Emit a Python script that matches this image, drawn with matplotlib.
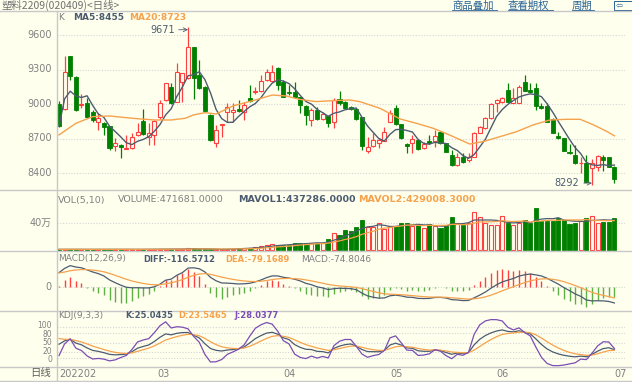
import numpy as np
import matplotlib
matplotlib.use("Agg")
import matplotlib.pyplot as plt
from matplotlib.lines import Line2D
from matplotlib.patches import Rectangle

# ---------------- data ----------------
opens = [9000, 8954, 9418, 9232, 8990, 9012, 8934, 8847, 8838, 8809,
         8635, 8643, 8612, 8615, 8731, 8852, 8716, 8731, 8890, 9035,
         9151, 9021, 9195, 9224, 9493, 9253, 9151, 8905, 8664, 8815,
         8928, 8933, 8954, 8933, 9049, 9101, 9113, 9209, 9203, 9311,
         9195, 9107, 9107, 9058, 8983, 8861, 8948, 8867, 8896, 8847,
         9041, 9020, 8971, 8954, 8884, 8594, 8638, 8664, 8681, 8847,
         8962, 8826, 8652, 8658, 8687, 8615, 8681, 8681, 8760, 8658,
         8557, 8470, 8536, 8513, 8542, 8751, 8789, 8876, 9006, 9020,
         9122, 9012, 9012, 9195, 9125, 9137, 8983, 8983, 8867, 8722,
         8702, 8586, 8557, 8484, 8490, 8441, 8455, 8542, 8536, 8455]
highs = [9029, 9418, 9418, 9240, 9087, 9050, 8950, 8919, 8845, 8812,
         8702, 8650, 8731, 8745, 8838, 8954, 8832, 8861, 9035, 9186,
         9180, 9360, 9270, 9671, 9500, 9383, 9160, 8910, 8818, 8830,
         9006, 9006, 9035, 9021, 9165, 9151, 9253, 9302, 9340, 9320,
         9210, 9165, 9194, 9065, 8990, 8962, 8977, 8933, 8900, 9050,
         9116, 9030, 8980, 8960, 8890, 8716, 8745, 8702, 8803, 8948,
         8991, 8830, 8660, 8731, 8700, 8672, 8731, 8774, 8765, 8660,
         8600, 8571, 8571, 8577, 8760, 8810, 8890, 9010, 9040, 9064,
         9180, 9137, 9166, 9253, 9180, 9186, 9006, 9006, 8875, 8760,
         8705, 8652, 8643, 8542, 8557, 8525, 8557, 8557, 8542, 8460]
lows = [8803, 8948, 9209, 8942, 8962, 8875, 8847, 8774, 8731, 8600,
        8594, 8528, 8605, 8610, 8725, 8730, 8644, 8644, 8867, 9030,
        9000, 9015, 9020, 9220, 9041, 9130, 8935, 8680, 8629, 8716,
        8847, 8847, 8930, 8861, 9020, 9090, 9105, 9200, 9195, 9122,
        9060, 9080, 9050, 8919, 8818, 8809, 8860, 8860, 8803, 8789,
        8995, 8955, 8950, 8860, 8600, 8577, 8630, 8615, 8675, 8840,
        8820, 8700, 8571, 8577, 8600, 8605, 8655, 8629, 8650, 8580,
        8465, 8465, 8490, 8500, 8535, 8745, 8780, 8870, 8934, 9010,
        9015, 9005, 9005, 9110, 9100, 8948, 8955, 8840, 8745, 8695,
        8590, 8565, 8480, 8397, 8320, 8292, 8420, 8420, 8450, 8310]
closes = [8809, 9281, 9244, 8948, 9000, 8884, 8861, 8876, 8797, 8615,
          8658, 8626, 8620, 8716, 8760, 8736, 8751, 8852, 9006, 9180,
          9006, 9282, 9267, 9493, 9224, 9137, 8942, 8687, 8774, 8826,
          8971, 8948, 8939, 8991, 9029, 9116, 9200, 9282, 9282, 9166,
          9064, 9093, 9058, 8991, 8904, 8948, 8867, 8910, 8838, 9035,
          9006, 8962, 8954, 8867, 8635, 8623, 8687, 8687, 8760, 8925,
          8826, 8702, 8635, 8693, 8606, 8652, 8664, 8722, 8658, 8586,
          8470, 8542, 8499, 8542, 8751, 8797, 8876, 9000, 9035, 9049,
          9020, 9049, 9151, 9116, 9105, 8983, 8962, 8846, 8751, 8702,
          8594, 8571, 8484, 8490, 8325, 8484, 8548, 8513, 8455, 8345]
volumes = [10000, 9000, 11000, 10000, 9000, 10000, 9000, 10000, 11000, 10000,
           9000, 10000, 10000, 9000, 10000, 11000, 12000, 13000, 14000, 13000,
           14000, 15000, 15000, 25000, 26000, 10000, 9000, 10000, 9000, 10000,
           20000, 22000, 25000, 30000, 35000, 40000, 55000, 70000, 84000, 80000,
           75000, 80000, 104000, 104000, 104000, 109000, 109000, 99000, 158000, 257000,
           222000, 296000, 282000, 346000, 445000, 346000, 336000, 395000, 306000, 356000,
           356000, 395000, 405000, 356000, 385000, 321000, 385000, 356000, 326000, 370000,
           494000, 395000, 370000, 395000, 568000, 494000, 395000, 370000, 370000, 504000,
           395000, 370000, 395000, 445000, 395000, 618000, 435000, 435000, 435000, 469000,
           445000, 385000, 395000, 435000, 469000, 504000, 405000, 420000, 420000, 471681]
ma20_idx = [0, 3, 6, 9, 13, 17, 20, 22.5, 24, 26, 28, 31, 35, 38, 40.5, 42.8, 45.8,
            48.8, 51.8, 53.6, 57.2, 60.8, 63.7, 66.7, 69.6, 73.2, 75.6, 78.6, 81.6,
            84.5, 87.5, 90.5, 92.9, 95.3, 97.7, 99]
ma20_val = [8731, 8832, 8890, 8896, 8876, 8861, 8861, 8876, 8905, 8925, 8913, 8983,
            9035, 9078, 9070, 9041, 9021, 9029, 9035, 9021, 8963, 8870, 8832, 8789,
            8731, 8652, 8673, 8716, 8760, 8818, 8861, 8867, 8867, 8818, 8760, 8723]
month_labels = ["202202", "03", "04", "05", "06", "07"]
month_idx = [0, 17.5, 40, 59, 78, 99]
price_ticks = [9600, 9300, 9000, 8700, 8400]
kdj_ticks = [100, 80, 50, 20, 0]

title_text = "塑料2209(020409)<日线>"
links = ["商品叠加", "查看期权", "周期"]
ma_header = ["K", "MA5:8455", "MA20:8723"]
vol_header = ["VOL(5,10)", "VOLUME:471681.0000", "MAVOL1:437286.0000", "MAVOL2:429008.3000"]
macd_header = ["MACD(12,26,9)", "DIFF:-116.5712", "DEA:-79.1689", "MACD:-74.8046"]
kdj_header = ["KDJ(9,3,3)", "K:25.0435", "D:23.5465", "J:28.0377"]

# --------------- indicators ---------------
C = np.array(closes, float)
H = np.array(highs, float)
L = np.array(lows, float)
O = np.array(opens, float)
V = np.array(volumes, float)
n = len(C)
x = np.arange(n)

def sma(a, k):
    out = np.empty(len(a))
    for i in range(len(a)):
        out[i] = a[max(0, i - k + 1):i + 1].mean()
    return out

ma5 = sma(C, 5)
mavol1 = sma(V, 5)
mavol2 = sma(V, 10)

# MACD with starting states
ema12, ema26, dea = 8800.0, 8690.0, 100.0
diff_l, dea_l = [], []
for c in C:
    ema12 = ema12 * 11 / 13 + c * 2 / 13
    ema26 = ema26 * 25 / 27 + c * 2 / 27
    d = ema12 - ema26
    dea = dea * 8 / 10 + d * 2 / 10
    diff_l.append(d)
    dea_l.append(dea)
diff_a = np.array(diff_l)
dea_a = np.array(dea_l)
macd_a = 2 * (diff_a - dea_a)

# KDJ(9,3,3) with starting states
k, dd = 66.0, 72.0
K_l, D_l = [], []
for i in range(n):
    lo = L[max(0, i - 8):i + 1].min()
    hi = H[max(0, i - 8):i + 1].max()
    rsv = (C[i] - lo) / (hi - lo) * 100 if hi > lo else 50
    k = k * 2 / 3 + rsv / 3
    dd = dd * 2 / 3 + k / 3
    K_l.append(k)
    D_l.append(dd)
K_a = np.array(K_l)
D_a = np.array(D_l)
J_a = 3 * K_a - 2 * D_a

# ---------------- style ----------------
W, Hh = 632, 382
BG = "#FFFFEE"
RED = "#FF4040"
GREEN = "#008000"
MGREEN = "#5DB043"
DARK = "#4C5C70"
ORANGE = "#F6A24C"
PURPLE = "#7A4DB3"
GRAY = "#808080"
GRID = "#D5D5D5"
CJK = ["Noto Sans CJK SC", "DejaVu Sans"]
LAT = ["DejaVu Sans", "Noto Sans CJK SC"]

fig = plt.figure(figsize=(W / 100, Hh / 100), dpi=100, facecolor=BG)

X0, X1 = 57, 625
XL = (-0.36, (X1 - 59) / 5.61)

def px_axes(y0, y1):
    ax = fig.add_axes([X0 / W, 1 - y1 / Hh, (X1 - X0) / W, (y1 - y0) / Hh])
    ax.set_facecolor(BG)
    ax.set_xlim(*XL)
    for s in ax.spines.values():
        s.set_visible(False)
    ax.set_xticks([])
    ax.set_yticks([])
    return ax

def ftext(xp, yp, s, **kw):
    kw.setdefault("fontsize", 7)
    kw.setdefault("va", "center")
    kw.setdefault("family", LAT)
    fig.text(xp / W, 1 - yp / Hh, s, **kw)

def hline(yp, x0=0, x1=W, color="#C8C8C8", lw=1.0):
    fig.add_artist(Line2D([x0 / W, x1 / W], [1 - yp / Hh, 1 - yp / Hh], color=color, lw=lw,
                          transform=fig.transFigure))

def vline(xp, y0, y1, color="#C8C8C8", lw=1.0):
    fig.add_artist(Line2D([xp / W, xp / W], [1 - y0 / Hh, 1 - y1 / Hh], color=color, lw=lw,
                          transform=fig.transFigure))

# ---------------- main K panel ----------------
ax = px_axes(12, 190)
ax.set_ylim(8400 - 17 * 1200 / 138, 9600 + 23 * 1200 / 138)
for t in price_ticks:
    ax.axhline(t, color=GRID, lw=0.8, ls=(0, (1, 1.5)), zorder=0)
    ftext(52, 173 - (t - 8400) * 138 / 1200, str(t), ha="right", color=GRAY, fontsize=7)

up = C >= O
cols = np.where(up, RED, GREEN)
ax.vlines(x, L, H, colors=cols, lw=0.9, zorder=2)
body_lo = np.minimum(O, C)
body_h = np.maximum(np.abs(C - O), 3)
ax.bar(x[up], body_h[up], bottom=body_lo[up], width=0.72, facecolor=BG, edgecolor=RED,
       linewidth=0.8, zorder=3)
ax.bar(x[~up], body_h[~up], bottom=body_lo[~up], width=0.72, facecolor=GREEN, edgecolor=GREEN,
       linewidth=0.6, zorder=3)
ax.plot(x, ma5, color=DARK, lw=1.0, zorder=4)
ax.plot(ma20_idx, ma20_val, color=ORANGE, lw=1.0, zorder=4)

ihi = int(np.argmax(H))
ilo = int(np.argmin(L))
ax.annotate(f"{int(H[ihi])}", xy=(ihi, H[ihi] - 25), xytext=(ihi - 2.4, H[ihi] - 25),
            ha="right", va="center", fontsize=7, color=DARK, family=LAT,
            arrowprops=dict(arrowstyle="->", color=DARK, lw=0.6, shrinkA=1, shrinkB=0))
ax.annotate(f"{int(L[ilo])}", xy=(ilo, L[ilo] + 20), xytext=(ilo - 2.2, L[ilo] + 20),
            ha="right", va="center", fontsize=7, color=DARK, family=LAT,
            arrowprops=dict(arrowstyle="->", color=DARK, lw=0.6, shrinkA=1, shrinkB=0))

ftext(58, 17, ma_header[0], color=GRAY, fontsize=6.5)
ftext(73, 17, ma_header[1], color=DARK, fontweight="bold", fontsize=6.5)
ftext(129, 17, ma_header[2], color=ORANGE, fontweight="bold", fontsize=6.5)

# ---------------- VOL panel ----------------
axv = px_axes(190, 251)
vs = 400000 / 27
axv.set_ylim(-1 * vs, 400000 + 33 * vs)
axv.axhline(400000, color=GRID, lw=0.8, ls=(0, (1, 1.5)), zorder=0)
ftext(52, 223, "40万", ha="right", color=GRAY, family=LAT)
vmin = 1.2 * vs
vh = np.maximum(V, vmin)
axv.bar(x[up], vh[up], width=0.72, facecolor=BG, edgecolor=RED, linewidth=0.8, zorder=3)
axv.bar(x[~up], vh[~up], width=0.72, facecolor=GREEN, edgecolor=GREEN, linewidth=0.6, zorder=3)
axv.plot(x, mavol1, color=DARK, lw=0.9, zorder=4)
axv.plot(x, mavol2, color=ORANGE, lw=0.9, zorder=4)
ftext(58, 200, vol_header[0], color=GRAY, fontsize=6.8)
ftext(118, 200, vol_header[1], color=GRAY, fontsize=6.8)
ftext(238, 200, vol_header[2], color=DARK, fontweight="bold", fontsize=6.8)
ftext(358, 200, vol_header[3], color=ORANGE, fontweight="bold", fontsize=6.8)

# ---------------- MACD panel ----------------
axm = px_axes(251, 311)
ms = 7.15
axm.set_ylim(-24 * ms, 36 * ms)
axm.axhline(0, color=GRID, lw=0.8, ls=(0, (1, 1.5)), zorder=0)
ftext(52, 287, "0", ha="right", color=GRAY)
mcol = np.where(macd_a >= 0, RED, MGREEN)
axm.vlines(x, 0, macd_a, colors=mcol, lw=1.0, zorder=2)
axm.plot(x, diff_a, color=DARK, lw=0.9, zorder=3)
axm.plot(x, dea_a, color=ORANGE, lw=0.9, zorder=3)
ftext(58, 259, macd_header[0], color=GRAY, fontsize=6.5)
ftext(143, 259, macd_header[1], color=DARK, fontweight="bold", fontsize=6)
ftext(225, 259, macd_header[2], color=ORANGE, fontweight="bold", fontsize=6)
ftext(301, 259, macd_header[3], color=GRAY, fontsize=6.5)

# ---------------- KDJ panel ----------------
axk = px_axes(311, 367)
ks = 100 / (358.3 - 327)
axk.set_ylim(-(367 - 358.3) * ks, 100 + (327 - 311) * ks)
for t in kdj_ticks:
    axk.axhline(t, color=GRID, lw=0.8, ls=(0, (1, 1.5)), zorder=0)
nudge = {100: -1.2, 80: 0.8, 50: 0, 20: -0.8, 0: 1.2}
for t in kdj_ticks:
    ftext(52, 358.3 - t / ks + nudge[t], str(t), ha="right", color=GRAY, fontsize=5.5)
axk.plot(x, K_a, color=DARK, lw=0.9, zorder=3)
axk.plot(x, D_a, color=ORANGE, lw=0.9, zorder=3)
axk.plot(x, J_a, color=PURPLE, lw=0.9, zorder=3)
ftext(58, 316, kdj_header[0], color=GRAY, fontsize=6.5)
ftext(125, 316, kdj_header[1], color=DARK, fontweight="bold", fontsize=6)
ftext(178, 316, kdj_header[2], color=ORANGE, fontweight="bold", fontsize=6)
ftext(234, 316, kdj_header[3], color=PURPLE, fontweight="bold", fontsize=6)

# ---------------- date axis ----------------
axd = px_axes(367, 381)
axd.set_ylim(0, 1)
for lab, xi in zip(month_labels, month_idx):
    axd.text(xi, 0.5, lab, ha="left", va="center", fontsize=7, color=GRAY, family=LAT)
ftext(30, 373, "日线", color="#606060", family=CJK, fontsize=7.5)

# ---------------- frame lines ----------------
for yp in (11, 190, 251, 311, 367, 381):
    hline(yp)
vline(X0, 11, 382)

# ---------------- title bar ----------------
ftext(1, 5.5, title_text, color="#707070", family=CJK, fontsize=7.5)
LINK = "#2A6496"
for s, xp, w in zip(links, (452, 508, 572), (45, 45, 22)):
    ftext(xp, 5.5, s, color=LINK, family=CJK, fontsize=7.5)
    fig.add_artist(Line2D([xp / W, (xp + w) / W], [1 - 10 / Hh, 1 - 10 / Hh], color=LINK, lw=0.6,
                          transform=fig.transFigure))
fig.add_artist(Rectangle((614 / W, 1 - 10 / Hh), 20 / W, 9 / Hh, fill=False, ec=LINK, lw=0.7,
                         transform=fig.transFigure))
ftext(616, 5.5, "⇦", color=LINK, fontsize=6)

fig.savefig("out.png", dpi=100, facecolor=BG)
